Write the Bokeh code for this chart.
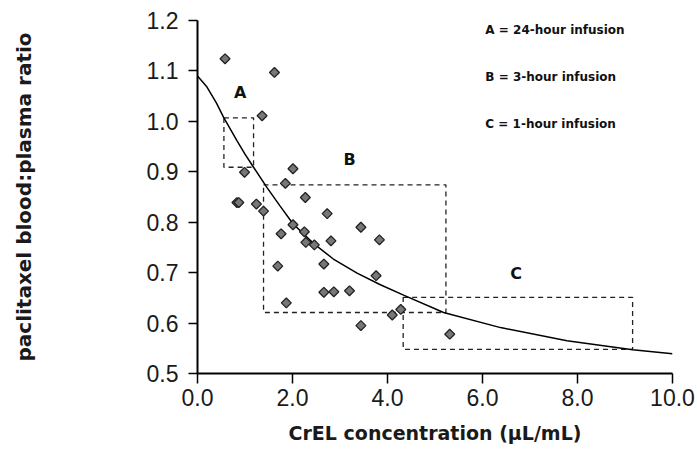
import numpy as np
from bokeh.plotting import figure
from bokeh.models import Range1d, FixedTicker, PrintfTickFormatter
from bokeh.core.properties import value
from bokeh.embed import file_html
from bokeh.resources import INLINE

# Observed data: CrEL concentration (uL/mL) vs paclitaxel blood:plasma ratio
crel = [0.58, 1.62, 1.36, 2.01, 0.99, 1.85, 2.27, 0.83, 0.87, 1.24, 1.39, 2.73,
        2.01, 2.25, 1.76, 3.44, 3.83, 2.28, 2.46, 2.81, 1.69, 2.66, 3.76, 2.66,
        2.87, 3.20, 1.87, 4.28, 4.10, 3.44, 5.31]
ratio = [1.124, 1.097, 1.011, 0.906, 0.899, 0.877, 0.849, 0.839, 0.839, 0.836, 0.822, 0.817,
         0.795, 0.781, 0.777, 0.790, 0.765, 0.760, 0.755, 0.763, 0.713, 0.717, 0.694, 0.661,
         0.662, 0.664, 0.640, 0.627, 0.616, 0.595, 0.578]

# Fitted curve
fit_x = [0.0, 0.2, 0.4, 0.55, 0.83, 1.0, 1.18, 1.46, 1.74, 2.01, 2.44, 2.86, 3.36,
         3.85, 4.35, 5.18, 6.38, 7.78, 9.16, 10.0]
fit_y = [1.090, 1.068, 1.036, 1.008, 0.962, 0.935, 0.909, 0.869, 0.832, 0.797, 0.758, 0.727, 0.699,
         0.676, 0.655, 0.621, 0.591, 0.565, 0.547, 0.539]

# Infusion regions
box_names = ["A", "B", "C"]
box_left = [0.556, 1.39, 4.33]
box_right = [1.18, 5.23, 9.16]
box_bottom = [0.909, 0.621, 0.548]
box_top = [1.007, 0.874, 0.651]
box_label_x = [0.90, 3.20, 6.71]
box_label_y = [1.057, 0.925, 0.698]

legend_text = ["A = 24-hour infusion", "B = 3-hour infusion", "C = 1-hour infusion"]
legend_x = 6.06
legend_y = [1.181, 1.087, 0.995]

x_ticks = [0, 2, 4, 6, 8, 10]
y_ticks = [0.5, 0.6, 0.7, 0.8, 0.9, 1.0, 1.1, 1.2]

p = figure(width=697, height=453, output_backend="svg", toolbar_location=None,
           x_range=Range1d(0, 10), y_range=Range1d(0.5, 1.2),
           min_border_left=197, min_border_right=25, min_border_top=20, min_border_bottom=80)
p.outline_line_color = None
p.xgrid.visible = False
p.ygrid.visible = False
p.background_fill_color = "white"
p.border_fill_color = "white"

for ax in (p.xaxis[0], p.yaxis[0]):
    ax.axis_line_width = 2
    ax.axis_line_color = "black"
    ax.major_tick_line_width = 1.5
    ax.major_tick_line_color = "black"
    ax.minor_tick_line_color = None
    ax.major_tick_in = 0
    ax.major_label_text_font = "Liberation Sans"
    ax.major_label_text_font_size = "23px"
    ax.major_label_text_color = "#1a1a1a"
    ax.axis_label_text_font = "DejaVu Sans"
    ax.axis_label_text_font_style = "bold"
    ax.axis_label_text_color = "#1a1a1a"
    ax.formatter = PrintfTickFormatter(format="%.1f")

p.xaxis.ticker = FixedTicker(ticks=x_ticks)
p.yaxis.ticker = FixedTicker(ticks=y_ticks)
p.xaxis.major_tick_out = 10
p.yaxis.major_tick_out = 9
p.xaxis.major_label_standoff = 5
p.yaxis.major_label_standoff = 10
p.xaxis.axis_label = "CrEL concentration (μL/mL)"
p.yaxis.axis_label = "paclitaxel blood:plasma ratio"
p.xaxis.axis_label_text_font_size = "19px"
p.yaxis.axis_label_text_font_size = "20px"
p.xaxis.axis_label_standoff = 13
p.yaxis.axis_label_standoff = 108

# dashed boxes
p.quad(left=box_left, right=box_right, bottom=box_bottom, top=box_top,
       fill_alpha=0, line_color="#222222", line_width=1.3, line_dash="5 4")

# fitted curve
p.line(fit_x, fit_y, line_color="black", line_width=1.5)

# data points
p.scatter(crel, ratio, marker="square", angle=np.pi / 4, size=7,
          fill_color="#777777", line_color="#222222", line_width=1.3)

# region letters
p.text(x=box_label_x, y=box_label_y, text=box_names, text_font=value("DejaVu Sans"),
       text_font_style="bold", text_font_size="16px", text_align="center",
       text_baseline="middle", text_color="#111111")

# legend text
p.text(x=[legend_x] * 3, y=legend_y, text=legend_text, text_font=value("DejaVu Sans"),
       text_font_style="bold", text_font_size="12px", text_align="left",
       text_baseline="middle", text_color="#111111")

open("out.html", "w").write(file_html(p, INLINE))
